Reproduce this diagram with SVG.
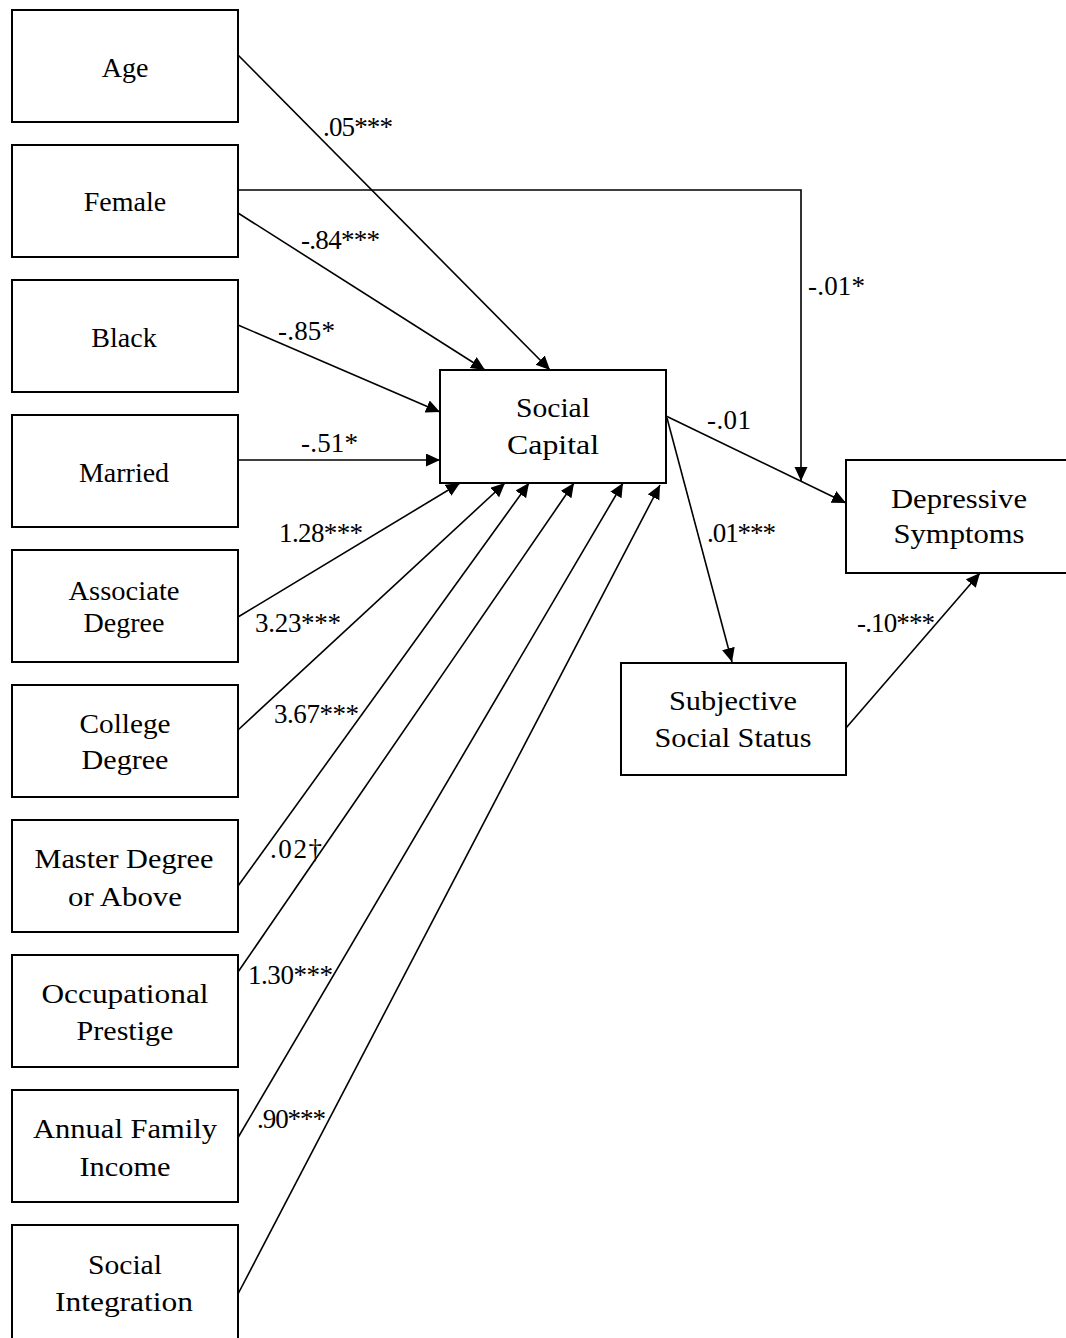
<svg xmlns="http://www.w3.org/2000/svg" width="1066" height="1338" viewBox="0 0 1066 1338">
<style>
.box{fill:#fff;stroke:#000;stroke-width:2}
.t{font-family:"Liberation Serif","Times New Roman",serif;font-size:28px;fill:#000;text-anchor:middle}
.p{font-family:"Liberation Serif","Times New Roman",serif;font-size:27px;fill:#000;text-anchor:middle}
.l{font-family:"Liberation Serif","Times New Roman",serif;font-size:27px;fill:#000}
.c{fill:none;stroke:#000;stroke-width:1.6}
</style>
<defs>
<marker id="ah" markerUnits="userSpaceOnUse" markerWidth="15" markerHeight="14" refX="14" refY="6.5" orient="auto">
<path d="M0,0 L14,6.5 L0,13 z" fill="#000"/>
</marker>
</defs>
<rect width="1066" height="1338" fill="#fff"/>
<g id="connectors">
<path class="c" d="M238,55 L550,370" marker-end="url(#ah)"/>
<path class="c" d="M238,213 L485,370" marker-end="url(#ah)"/>
<path class="c" d="M238,190 H801 V481" marker-end="url(#ah)"/>
<path class="c" d="M238,325 L440,412" marker-end="url(#ah)"/>
<path class="c" d="M238,460 L440,460" marker-end="url(#ah)"/>
<path class="c" d="M238,617 L460,483" marker-end="url(#ah)"/>
<path class="c" d="M238,730 L505,483" marker-end="url(#ah)"/>
<path class="c" d="M238,886 L529,483" marker-end="url(#ah)"/>
<path class="c" d="M238,972 L574,483" marker-end="url(#ah)"/>
<path class="c" d="M236,1141 L623,483" marker-end="url(#ah)"/>
<path class="c" d="M238,1294 L660,485" marker-end="url(#ah)"/>
<path class="c" d="M666,416 L846,503" marker-end="url(#ah)"/>
<path class="c" d="M667,418 L732,662" marker-end="url(#ah)"/>
<path class="c" d="M846,728 L980,573" marker-end="url(#ah)"/>
</g>
<g id="labels">
<text class="l" x="323" y="136" textLength="70">.05***</text>
<text class="l" x="301" y="249" textLength="79">-.84***</text>
<text class="l" x="278" y="340" textLength="57">-.85*</text>
<text class="l" x="301" y="452" textLength="57">-.51*</text>
<text class="l" x="279" y="542" textLength="84">1.28***</text>
<text class="l" x="255" y="632" textLength="86">3.23***</text>
<text class="l" x="274" y="723" textLength="85">3.67***</text>
<text class="l" x="270" y="858" textLength="52">.02†</text>
<text class="l" x="248" y="984" textLength="85">1.30***</text>
<text class="l" x="257" y="1128" textLength="69">.90***</text>
<text class="l" x="808" y="295" textLength="57">-.01*</text>
<text class="l" x="707" y="429" textLength="44">-.01</text>
<text class="l" x="707" y="542" textLength="69">.01***</text>
<text class="l" x="857" y="632" textLength="78">-.10***</text>
</g>
<g id="age"><rect class="box" x="12" y="10" width="226" height="112"/><text class="t" x="125" y="77">Age</text></g>
<g id="female"><rect class="box" x="12" y="145" width="226" height="112"/><text class="t" x="125" y="211">Female</text></g>
<g id="black"><rect class="box" x="12" y="280" width="226" height="112"/><text class="t" x="124" y="347">Black</text></g>
<g id="married"><rect class="box" x="12" y="415" width="226" height="112"/><text class="t" x="124" y="482">Married</text></g>
<g id="associate"><rect class="box" x="12" y="550" width="226" height="112"/><text class="p" x="124" y="600" textLength="111" lengthAdjust="spacingAndGlyphs">Associate</text><text class="p" x="124" y="632" textLength="81" lengthAdjust="spacingAndGlyphs">Degree</text></g>
<g id="college"><rect class="box" x="12" y="685" width="226" height="112"/><text class="p" x="125" y="733" textLength="91" lengthAdjust="spacingAndGlyphs">College</text><text class="p" x="125" y="769" textLength="87" lengthAdjust="spacingAndGlyphs">Degree</text></g>
<g id="master"><rect class="box" x="12" y="820" width="226" height="112"/><text class="p" x="124" y="868" textLength="179" lengthAdjust="spacingAndGlyphs">Master Degree</text><text class="p" x="125" y="906" textLength="114" lengthAdjust="spacingAndGlyphs">or Above</text></g>
<g id="occupational"><rect class="box" x="12" y="955" width="226" height="112"/><text class="p" x="125" y="1003" textLength="167" lengthAdjust="spacingAndGlyphs">Occupational</text><text class="p" x="125" y="1040" textLength="97" lengthAdjust="spacingAndGlyphs">Prestige</text></g>
<g id="income"><rect class="box" x="12" y="1090" width="226" height="112"/><text class="p" x="125" y="1138" textLength="184" lengthAdjust="spacingAndGlyphs">Annual Family</text><text class="p" x="125" y="1176" textLength="91" lengthAdjust="spacingAndGlyphs">Income</text></g>
<g id="integration"><rect class="box" x="12" y="1225" width="226" height="130"/><text class="p" x="125" y="1274" textLength="74" lengthAdjust="spacingAndGlyphs">Social</text><text class="p" x="124" y="1311" textLength="138" lengthAdjust="spacingAndGlyphs">Integration</text></g>
<g id="social-capital"><rect class="box" x="440" y="370" width="226" height="113"/><text class="p" x="553" y="417" textLength="74" lengthAdjust="spacingAndGlyphs">Social</text><text class="p" x="553" y="454" textLength="92" lengthAdjust="spacingAndGlyphs">Capital</text></g>
<g id="depressive"><rect class="box" x="846" y="460" width="240" height="113"/><text class="p" x="959" y="508" textLength="136" lengthAdjust="spacingAndGlyphs">Depressive</text><text class="p" x="959" y="543" textLength="131" lengthAdjust="spacingAndGlyphs">Symptoms</text></g>
<g id="sss"><rect class="box" x="621" y="663" width="225" height="112"/><text class="p" x="733" y="710" textLength="128" lengthAdjust="spacingAndGlyphs">Subjective</text><text class="p" x="733" y="747" textLength="157" lengthAdjust="spacingAndGlyphs">Social Status</text></g>
</svg>
